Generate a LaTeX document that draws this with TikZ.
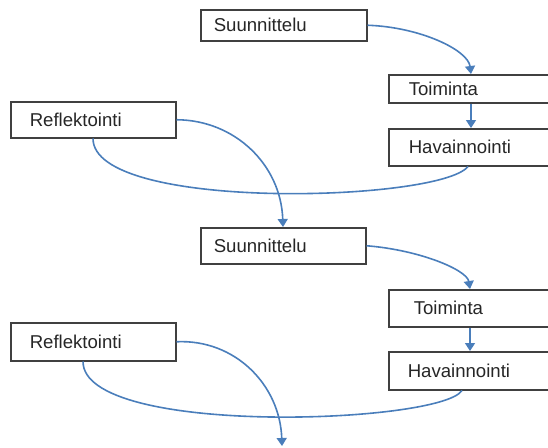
\documentclass[tikz,border=0pt]{standalone}
\usepackage{fontspec}
\setmainfont{Liberation Sans}
\usetikzlibrary{arrows.meta}
\definecolor{flow}{HTML}{4A7EBB}
\definecolor{frame}{HTML}{404040}
\begin{document}
\begin{tikzpicture}[x=1pt,y=-1pt,
  stage/.style={draw=frame, line width=1.5pt, rectangle, anchor=north west,
    align=left, inner ysep=0pt, font=\fontsize{18.6}{20}\selectfont, text=black!85},
  flowline/.style={draw=flow, line width=1.6pt},
  flowarrow/.style={flowline, -{Triangle[width=10pt,length=8pt]}}]
\useasboundingbox (0,0) rectangle (548,447);
\clip (0,0) rectangle (548,447);

% first cycle
\node[stage, minimum width=166, minimum height=31, inner xsep=13, text width=140] (s1) at (200,9) {Suunnittelu};
\node[stage, minimum width=172, minimum height=28, inner xsep=20, text width=132] (t1) at (388,74) {Toiminta};
\node[stage, minimum width=172, minimum height=37, inner xsep=20, text width=132] (h1) at (388,128) {Havainnointi};
\node[stage, minimum width=165, minimum height=36, inner xsep=19, text width=127] (r1) at (10,101) {Reflektointi};

% second cycle
\node[stage, minimum width=165, minimum height=36, inner xsep=13, text width=139] (s2) at (200,227) {Suunnittelu};
\node[stage, minimum width=172, minimum height=37, inner xsep=25, text width=122] (t2) at (388,289) {Toiminta};
\node[stage, minimum width=172, minimum height=38, inner xsep=19, text width=134] (h2) at (388,351) {Havainnointi};
\node[stage, minimum width=165, minimum height=38, inner xsep=19, text width=127] (r2) at (10,322) {Reflektointi};

\coordinate (next) at (282,446);

% connectors, first cycle
\draw[flowarrow] (s1.east) .. controls (420,27) and (468,50) .. ([xshift=83]t1.north west);
\draw[flowarrow] ([xshift=83]t1.south west) -- ([xshift=83]h1.north west);
\draw[flowline] ([xshift=80]h1.south west) .. controls (440,202) and (93,212) .. ([xshift=83]r1.south west);
\draw[flowarrow] (r1.east) .. controls (235,120) and (281,165) .. ([xshift=83]s2.north west);

% connectors, second cycle
\draw[flowarrow] (s2.east) .. controls (420,250) and (467,270) .. ([xshift=82]t2.north west);
\draw[flowarrow] ([xshift=82]t2.south west) -- ([xshift=82]h2.north west);
\draw[flowline] ([xshift=74]h2.south west) .. controls (440,424) and (83,437) .. ([xshift=73]r2.south west);
\draw[flowarrow] (r2.east) .. controls (235,339) and (280,385) .. (next);
\end{tikzpicture}
\end{document}
